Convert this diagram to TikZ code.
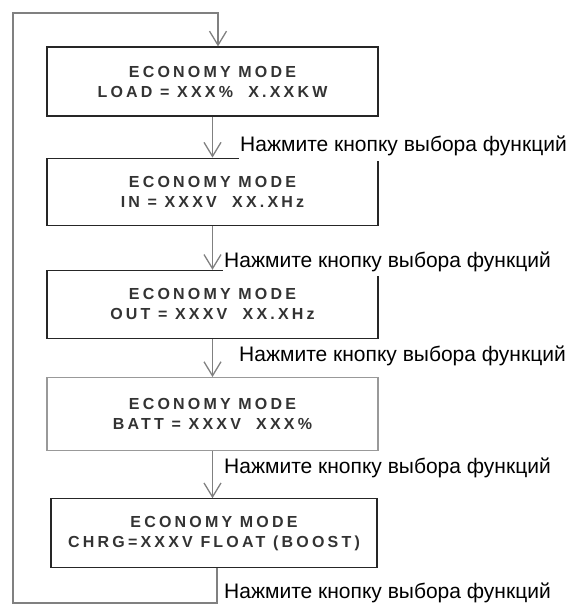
\documentclass[tikz,border=0pt]{standalone}
\usepackage{fontspec}
\setmainfont{Liberation Sans}
\newfontfamily\modefont[LetterSpace=20]{Liberation Sans Bold}
\usetikzlibrary{arrows.meta, positioning}

\begin{document}
\begin{tikzpicture}[x=1pt, y=-1pt, every node/.style={align=center, inner sep=1pt}]

        % Stile
        \tikzstyle{mode}=[draw=black!85, line width=1.2pt, minimum width=331pt, minimum height=69pt, text=black!80, font=\modefont\fontsize{16}{20}\selectfont]
        \tikzstyle{hint}=[anchor=base west, fill=white, font=\fontsize{21}{25}\selectfont]
        \tikzstyle{flow}=[draw=black!50, line width=1.3pt, -{Straight Barb[length=14pt, width=17pt]}]

        \useasboundingbox (0,0) rectangle (573,604);

        % Anzeigen
        \node[mode] (m1) at (212.5,81.5) {ECONOMY MODE\\LOAD = XXX\%\ \ X.XXKW};
        \node[mode, minimum height=67pt, below=41pt of m1] (m2) {ECONOMY MODE\\IN = XXXV\ \ XX.XHz};
        \node[mode, minimum height=68pt, below=44pt of m2] (m3) {ECONOMY MODE\\OUT = XXXV\ \ XX.XHz};
        \node[mode, draw=black!40, minimum height=73pt, below=38pt of m3] (m4) {ECONOMY MODE\\BATT = XXXV\ \ XXX\%};
        \node[mode, minimum width=326pt, below=47pt of m4, xshift=1.5pt] (m5) {ECONOMY MODE\\CHRG=XXXV FLOAT (BOOST)};

        % Pfeile
        \draw[flow] (m1) -- (m2);
        \draw[flow] (m2) -- (m3);
        \draw[flow] (m3) -- (m4);
        \draw[flow] (m4.south) -- (m4.south |- m5.north);

        % Ruecksprung
        \coordinate (lb) at (13,603);
        \coordinate (lt) at (13,13);
        \draw[flow] ([xshift=3pt]m5.south) |- (lb) -- (lt) -| ([xshift=5.5pt]m1.north);

        % Hinweise
        \node[hint, text depth=8pt] (h1) at (239,152) {Нажмите кнопку выбора функций};
        \node[hint, text depth=8pt] (h2) at (223,267) {Нажмите кнопку выбора функций};
        \node[hint] (h3) at (238,361) {Нажмите кнопку выбора функций};
        \node[hint] (h4) at (223,473) {Нажмите кнопку выбора функций};
        \node[hint] (h5) at (223,598) {Нажмите кнопку выбора функций};
\end{tikzpicture}
\end{document}
